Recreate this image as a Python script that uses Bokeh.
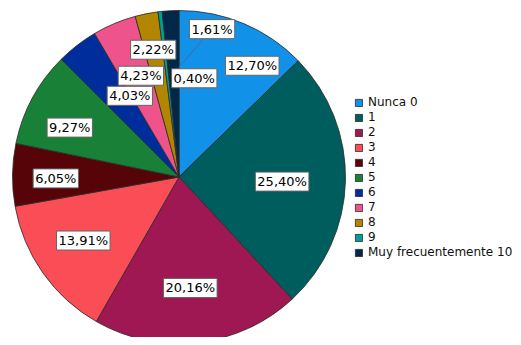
import numpy as np
from bokeh.plotting import figure
from bokeh.models import ColumnDataSource, Range1d, Legend, LegendItem
from bokeh.core.properties import value
from bokeh.embed import file_html
from bokeh.resources import INLINE

# ---- data ----
categories = ["Nunca 0", "1", "2", "3", "4", "5", "6", "7", "8", "9",
              "Muy frecuentemente 10"]
percent = [12.70, 25.40, 20.16, 13.91, 6.05, 9.27, 4.03, 4.23, 2.22, 0.40, 1.61]
colors = ["#1192e8", "#005d5d", "#9f1853", "#fa4d56", "#570408", "#198038",
          "#002d9c", "#ee538b", "#b28600", "#009d9a", "#012749"]

# ---- label layout (radius fraction, angular nudge in degrees) ----
label_r = [0.80, 0.62, 0.67, 0.69, 0.74, 0.72, 0.57, 0.65, 0.78, 0.60, 0.91]
label_shift = [10.5, 1.1, 0.7, 1.6, -1.4, -4.0, 6.5, 2.2, -0.2, 15.3, 15.5]

vals = np.array(percent, dtype=float)
frac = vals / vals.sum()
cum_after = np.cumsum(frac)
cum_before = cum_after - frac
start = np.pi / 2 - 2 * np.pi * cum_before
end = np.pi / 2 - 2 * np.pi * cum_after

mid_deg = 360 * (cum_before + frac / 2) + np.array(label_shift)
lr = np.array(label_r)
lx = lr * np.sin(np.radians(mid_deg))
ly = lr * np.cos(np.radians(mid_deg))
labels = [f"{v:.2f}".replace(".", ",") + "%" for v in percent]

src = ColumnDataSource(dict(cat=categories, start=start, end=end, color=colors,
                            lx=lx, ly=ly, lab=labels))

W, H = 513, 337
R_PX = 166.5
cx_px, cy_px = 178.5, 176.5  # pie centre within the plot frame (px)

p = figure(width=W, height=H, output_backend="svg", toolbar_location=None,
           x_range=Range1d(-cx_px / R_PX, (W - cx_px) / R_PX),
           y_range=Range1d(-(H - cy_px) / R_PX, cy_px / R_PX),
           min_border=0)
p.axis.visible = False
p.grid.visible = False
p.outline_line_color = None
p.background_fill_color = "white"
p.border_fill_color = "white"

wr = p.wedge(x=0, y=0, radius=1, start_angle="start", end_angle="end",
             direction="clock", fill_color="color", line_color="#2a2a2a",
             line_width=0.8, source=src)

# leader line for the last (small) slice
last = len(percent) - 1
tip_r = 0.66
tip_x = tip_r * np.sin(2 * np.pi * cum_after[last])
tip_y = tip_r * np.cos(2 * np.pi * cum_after[last])
p.segment(x0=[tip_x], y0=[tip_y], x1=[lx[last]], y1=[ly[last]],
          line_color="#3a6ea5", line_width=1)

p.text(x="lx", y="ly", text="lab", source=src, text_align="center",
       text_baseline="middle", text_font=value("DejaVu Sans"),
       text_font_size="13px", text_color="black",
       background_fill_color="white", border_line_color="#666666",
       border_line_width=1, padding=2)

items = [LegendItem(label=c, renderers=[wr], index=i)
         for i, c in enumerate(categories)]
legend = Legend(items=items, location=(354, 78), padding=0, margin=0,
                spacing=1, glyph_width=9, glyph_height=9, label_height=14,
                label_standoff=5, label_text_font="DejaVu Sans",
                label_text_font_size="12px", label_text_color="#111111",
                border_line_color=None, background_fill_alpha=0)
p.add_layout(legend)

open("out.html", "w").write(file_html(p, INLINE))
